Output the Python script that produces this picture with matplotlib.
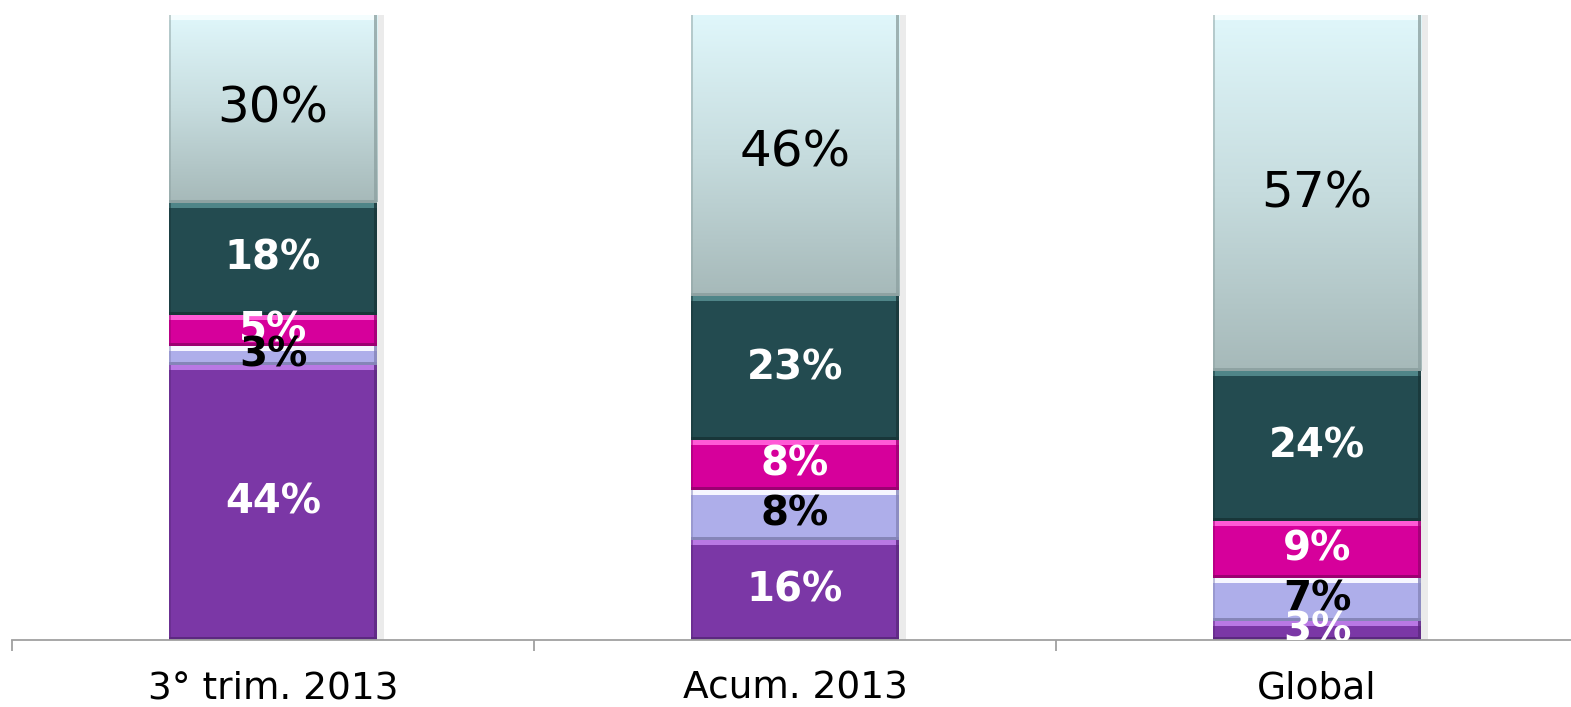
import numpy as np
import matplotlib
matplotlib.use("Agg")
import matplotlib.pyplot as plt
from matplotlib.patches import Rectangle
from matplotlib.colors import LinearSegmentedColormap

# shares per period (%), stacked bottom to top
categories = ["3° trim. 2013", "Acum. 2013", "Global"]
s_purple   = [44, 16, 3]
s_lavender = [3, 8, 7]
s_magenta  = [5, 8, 9]
s_teal     = [18, 23, 24]
s_top      = [30, 46, 57]

series = [s_purple, s_lavender, s_magenta, s_teal, s_top]
# face, highlight (top edge), shade (bottom edge), label colour, label weight
styles = [
    ("#7b37a6", "#b978e4", "#5c2880", "white", "bold"),
    ("#aeaeea", "#f6f6ff", "#8585b8", "black", "bold"),
    ("#d6009b", "#ff5ad6", "#9c0072", "white", "bold"),
    ("#234b50", "#4f8588", "#183639", "white", "bold"),
    ("#c4dcdf", "#f4fdfe", "#8ea2a2", "black", "normal"),
]
top_grad = LinearSegmentedColormap.from_list("topgrad", ["#a6b9b9", "#c6dcde", "#e0f7fb"])
YMAX = 100

fig = plt.figure(figsize=(15.71, 7.07), dpi=100)
ax = fig.add_axes([12/1571, 67/707, 1566/1571, 625/707])
ax.set_xlim(-0.5, 2.5)
ax.set_ylim(0, YMAX)

x = np.arange(len(categories))
width = 0.4
bottom = np.zeros(len(categories))
for k, vals in enumerate(series):
    face, hi, sh, tc, tw = styles[k]
    bars = ax.bar(x, vals, width, bottom=bottom, color=face, edgecolor="none", zorder=3)
    for rect, v, b in zip(bars, vals, bottom):
        rx, ry, rw, rh = rect.get_x(), rect.get_y(), rect.get_width(), rect.get_height()
        hl = min(0.8, rh * 0.3)
        ax.add_patch(Rectangle((rx, ry + rh - hl), rw, hl, color=hi, lw=0, zorder=4))
        ax.add_patch(Rectangle((rx, ry), rw, min(0.45, rh * 0.2), color=sh, lw=0, zorder=4))
        # side shading
        ax.add_patch(Rectangle((rx + rw - 0.006, ry), 0.006, min(rh, YMAX - ry), color=sh,
                               lw=0, zorder=4, alpha=0.8))
        ax.add_patch(Rectangle((rx, ry), 0.004, min(rh, YMAX - ry), color=sh, lw=0,
                               zorder=4, alpha=0.5))
        if k == 4:
            rect.set_facecolor("none")
            grad = np.linspace(0, 1, 256).reshape(-1, 1)
            im = ax.imshow(grad, extent=[rx, rx + rw, ry, min(ry + rh, YMAX)], origin="lower",
                           cmap=top_grad, aspect="auto", zorder=3.5)
        fs = 36 if k == 4 else 29
        ax.text(rx + rw / 2, b + v / 2, f"{v}%", ha="center", va="center",
                color=tc, fontsize=fs, fontweight=tw, zorder=20 - k, clip_on=True)
    bottom = bottom + np.array(vals)

# soft drop shadow on the right of each bar
for xi, tot in zip(x, bottom):
    ax.add_patch(Rectangle((xi + width / 2, 0), 0.012, min(tot, YMAX), color="#000000",
                           alpha=0.08, lw=0, zorder=2))

ax.set_xlim(-0.5, 2.5)
ax.set_ylim(0, YMAX)
for s in ["top", "right", "left"]:
    ax.spines[s].set_visible(False)
ax.spines["bottom"].set_color("#a0a0a0")
ax.spines["bottom"].set_linewidth(1.3)
ax.spines["bottom"].set_zorder(6)
ax.set_yticks([])
ax.set_xticks(x)
ax.set_xticklabels(categories, fontsize=27)
ax.tick_params(axis="x", which="major", length=0, pad=22)
ax.set_xticks([-0.5, 0.5, 1.5, 2.5], minor=True)
ax.tick_params(axis="x", which="minor", length=8, width=1.3, color="#a0a0a0", direction="out")

fig.savefig("out.png", dpi=100)
